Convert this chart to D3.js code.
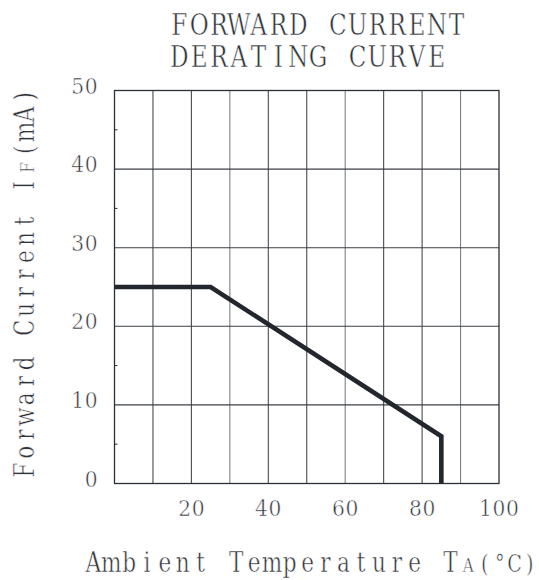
<!DOCTYPE html>
<html>
<head>
<meta charset="utf-8">
<script src="https://cdn.jsdelivr.net/npm/d3@7/dist/d3.min.js"></script>
<style>
  html, body { margin: 0; padding: 0; background: #fff; }
  svg { display: block; }
  text { font-family: "DejaVu Serif", "Liberation Serif", serif; fill: #2e3239; white-space: pre;
         stroke: #ffffff; stroke-width: 0.55px; paint-order: normal; }
</style>
</head>
<body>
<svg id="chart" width="539" height="580"></svg>
<script>
// ---- data ----
const titleLines = ["FORWARD CURRENT", "DERATING CURVE"];
const temperatureC = [0, 25, 85, 85];
const currentMA = [25, 25, 6, 0];
const xTickLabels = [20, 40, 60, 80, 100];
const yTickLabels = [0, 10, 20, 30, 40, 50];
const xDomain = [0, 100];
const yDomain = [0, 50];

// ---- layout ----
const plot = { left: 114.5, right: 499, top: 90.5, bottom: 483.5 };
const svg = d3.select("#chart");
const ink = "#2b2f36";

const x = d3.scaleLinear().domain(xDomain).range([plot.left, plot.right]);
const y = d3.scaleLinear().domain(yDomain).range([plot.bottom, plot.top]);

// grid
const grid = svg.append("g");
grid.selectAll("line.v")
  .data(d3.range(xDomain[0] + 10, xDomain[1], 10))
  .join("line")
  .attr("x1", d => x(d)).attr("x2", d => x(d))
  .attr("y1", plot.top).attr("y2", plot.bottom)
  .attr("stroke", (d, i) => (i % 3 === 2 ? "#7d8187" : "#474b52"))
  .attr("stroke-width", 1.1);
grid.selectAll("line.h")
  .data(d3.range(yDomain[0] + 10, yDomain[1], 10))
  .join("line")
  .attr("x1", plot.left).attr("x2", plot.right)
  .attr("y1", d => y(d)).attr("y2", d => y(d))
  .attr("stroke", "#3a3e45")
  .attr("stroke-width", 1.1);

// minor inward ticks on left axis
grid.selectAll("line.m")
  .data(d3.range(5, 50, 10))
  .join("line")
  .attr("x1", plot.left).attr("x2", plot.left + 3)
  .attr("y1", d => y(d)).attr("y2", d => y(d))
  .attr("stroke", ink).attr("stroke-width", 1);

// frame
svg.append("rect")
  .attr("x", plot.left).attr("y", plot.top)
  .attr("width", plot.right - plot.left).attr("height", plot.bottom - plot.top)
  .attr("fill", "none").attr("stroke", ink).attr("stroke-width", 1.3);

// curve
const pts = temperatureC.map((t, i) => [t, currentMA[i]]);
svg.append("path")
  .datum(pts)
  .attr("d", d3.line().x(d => x(d[0])).y(d => y(d[1])))
  .attr("fill", "none")
  .attr("stroke", "#22262d")
  .attr("stroke-width", 4.6)
  .attr("stroke-linejoin", "miter");

// ---- fixed-pitch (typewriter style) text helper ----
function monoText(parent, o) {
  const sx = o.sx || 1, sy = o.sy || 1;
  const lineW = line => d3.sum(line, s => s.text.length * s.adv);
  const g = parent.append("g")
    .attr("transform", `translate(${o.x},${o.y})` + (o.rotate ? ` rotate(${o.rotate})` : "") + ` scale(${sx},${sy})`);
  const t = g.append("text").attr("text-anchor", "middle");
  o.lines.forEach((line, li) => {
    const w = lineW(line);
    let cur = o.anchor === "end" ? -w : o.anchor === "middle" ? -w / 2 : 0;
    line.forEach(seg => {
      for (const ch of seg.text) {
        t.append("tspan")
          .attr("x", (cur + seg.adv / 2) / sx)
          .attr("y", (li * (o.lineGap || 0)) / sy)
          .attr("font-size", seg.size)
          .text(ch);
        cur += seg.adv;
      }
    });
  });
  return t;
}

// y tick labels
yTickLabels.forEach(v => {
  monoText(svg, { x: 98, y: y(v) + 3, anchor: "end", sx: 0.92,
    lines: [[{ text: String(v), size: 22, adv: 13.5 }]] });
});

// x tick labels
xTickLabels.forEach(v => {
  monoText(svg, { x: x(v), y: 516, anchor: "middle", sx: 0.92,
    lines: [[{ text: String(v), size: 22, adv: 13.5 }]] });
});

// title (two lines, one text element)
monoText(svg, { x: 169.5, y: 35, sx: 0.8, lineGap: 32,
  lines: titleLines.map(l => [{ text: l, size: 29, adv: 19.8 }]) });

// x axis title
monoText(svg, { x: 84.5, y: 572, sx: 0.8,
  lines: [[
    { text: "Ambient Temperature T", size: 27, adv: 17.85 },
    { text: "A", size: 19, adv: 17.85 },
    { text: "(°C)", size: 24, adv: 15 }
  ]] });

// y axis title (rotated)
monoText(svg, { x: 34, y: 479, rotate: -90, sx: 0.8,
  lines: [[
    { text: "Forward Current I", size: 27, adv: 17.8 },
    { text: "F", size: 19, adv: 17.8 },
    { text: "(mA)", size: 27, adv: 17.8 }
  ]] });
</script>
</body>
</html>
